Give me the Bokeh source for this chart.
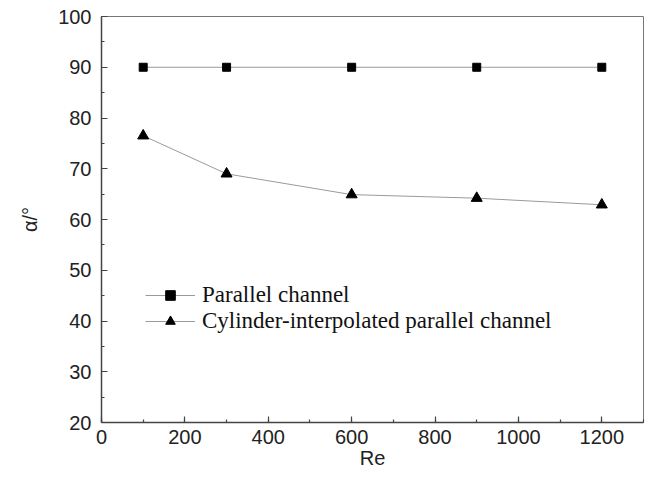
from bokeh.plotting import figure
from bokeh.models import Range1d, SingleIntervalTicker, Legend, LegendItem
from bokeh.embed import file_html
from bokeh.resources import INLINE

re_vals = [100, 300, 600, 900, 1200]
parallel = [90, 90, 90, 90, 90]
cylinder = [76.5, 69.0, 64.9, 64.2, 62.9]
series_names = ["Parallel channel", "Cylinder-interpolated parallel channel"]

p = figure(width=646, height=478, output_backend="svg", toolbar_location=None,
           x_range=Range1d(0, 1300), y_range=Range1d(20, 100),
           min_border_left=101, min_border_right=3, min_border_top=16, min_border_bottom=56)
p.xgrid.visible = False
p.ygrid.visible = False
p.outline_line_color = "#777777"
p.outline_line_width = 1
p.background_fill_color = "white"
p.border_fill_color = "white"

l1 = p.line(re_vals, parallel, line_color="#9a9a9a", line_width=1)
s1 = p.scatter(re_vals, parallel, marker="square", size=8, fill_color="black", line_color="black")
l2 = p.line(re_vals, cylinder, line_color="#9a9a9a", line_width=1)
s2 = p.scatter(re_vals, cylinder, marker="triangle", size=11, fill_color="black", line_color="black")

for ax in (p.xaxis[0], p.yaxis[0]):
    ax.axis_line_color = "#444444"
    ax.axis_line_width = 1.5
    ax.major_tick_line_color = "#444444"
    ax.minor_tick_line_color = "#444444"
    ax.major_tick_line_width = 1.2
    ax.minor_tick_line_width = 1.2
    ax.major_tick_in = 6
    ax.major_tick_out = 0
    ax.minor_tick_in = 3
    ax.minor_tick_out = 0
    ax.major_label_text_font = "Liberation Sans"
    ax.major_label_text_font_size = "20px"
    ax.major_label_text_color = "#222222"
    ax.axis_label_text_font = "Liberation Sans"
    ax.axis_label_text_font_size = "20px"
    ax.axis_label_text_font_style = "normal"
    ax.axis_label_text_color = "#222222"

p.xaxis.ticker = SingleIntervalTicker(interval=200, num_minor_ticks=2)
p.yaxis.ticker = SingleIntervalTicker(interval=10, num_minor_ticks=2)
p.xaxis.axis_label = "Re"
p.yaxis.axis_label = "α/°"
p.xaxis.major_label_standoff = 7
p.xaxis.axis_label_standoff = 0
p.yaxis.major_label_standoff = 10
p.yaxis.axis_label_standoff = 14

legend = Legend(items=[LegendItem(label=series_names[0], renderers=[l1, s1]),
                       LegendItem(label=series_names[1], renderers=[l2, s2])],
                location=(44, 88), orientation="vertical",
                label_text_font="Liberation Serif", label_text_font_size="23px",
                label_text_color="#111111",
                glyph_width=50, glyph_height=24, label_height=24, label_standoff=7,
                spacing=0, padding=0, margin=0,
                border_line_color=None, background_fill_alpha=0)
p.add_layout(legend, "center")

open("out.html", "w").write(file_html(p, INLINE))
